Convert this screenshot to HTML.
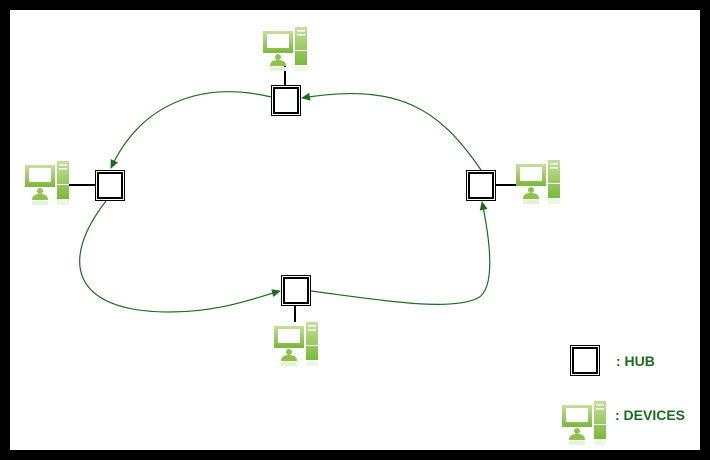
<!DOCTYPE html>
<html><head><style>
html,body{margin:0;padding:0;background:#fff;}
.f{position:absolute;left:0;top:0;width:710px;height:460px;box-sizing:border-box;border:10px solid #000;background:#fff;}
svg{position:absolute;left:0;top:0;}
</style></head><body>
<div class="f"></div>
<svg width="710" height="460" viewBox="0 0 710 460">
<defs>
<linearGradient id="g" x1="0" y1="0" x2="0" y2="1"><stop offset="0" stop-color="#c6e09a"/><stop offset="1" stop-color="#7ab83a"/></linearGradient>
<marker id="a" markerWidth="10" markerHeight="10" refX="8" refY="5" orient="auto" markerUnits="userSpaceOnUse"><path d="M0,1 L9,5 L0,9 Z" fill="#1a6e1a"/></marker>
<g id="d">
<rect x="0" y="4" width="30" height="22" fill="url(#g)"/>
<rect x="4" y="7" width="22" height="14" fill="#fff"/>
<rect x="32" y="0" width="12" height="38" fill="url(#g)"/>
<rect x="34" y="3" width="8" height="1.5" fill="#fff"/><rect x="34" y="7" width="8" height="1.5" fill="#fff"/>
<rect x="32" y="23" width="12" height="1" fill="#fff"/>
<circle cx="15" cy="30" r="3" fill="#8cc34a"/>
<path d="M7,39 Q7,33 15,33 Q23,33 23,39 Z" fill="#8cc34a"/>
<rect x="7" y="40" width="16" height="4" fill="#e6f2d6"/>
<rect x="32" y="39" width="12" height="5" fill="#eef6e4"/>
</g>
<g id="h"><rect x="0.5" y="0.5" width="29" height="30" fill="#fff" stroke="#000" stroke-width="1"/><rect x="3" y="3" width="24" height="25" fill="none" stroke="#000" stroke-width="2"/></g>
</defs>
<g stroke="#1a6e1a" stroke-width="1.2" fill="none">
<path d="M271,97 C200,80 140,105 111,168" marker-end="url(#a)"/>
<path d="M106,201 C60,260 70,312 170,312 C220,312 255,298 280,291" marker-end="url(#a)"/>
<path d="M311,291 C380,300 450,312 478,298 C496,288 490,240 482,202" marker-end="url(#a)"/>
<path d="M481,170 C440,110 400,82 302,98" marker-end="url(#a)"/>
</g>
<g stroke="#000" stroke-width="2">
<line x1="285" y1="66" x2="285" y2="85"/>
<line x1="69" y1="185" x2="95" y2="185"/>
<line x1="496" y1="185" x2="516" y2="185"/>
<line x1="295" y1="306" x2="295" y2="322"/>
</g>
<use href="#d" x="263" y="27"/>
<use href="#d" x="25" y="161"/>
<use href="#d" x="516" y="160"/>
<use href="#d" x="274" y="322"/>
<use href="#d" x="562" y="401"/>
<use href="#h" x="271" y="85"/>
<use href="#h" x="95" y="170"/>
<use href="#h" x="466" y="170"/>
<use href="#h" x="281" y="275"/>
<use href="#h" x="570" y="345"/>
<text x="616" y="366" font-family="Liberation Sans, sans-serif" font-weight="bold" font-size="14" fill="#1a6e1a">: HUB</text>
<text x="615" y="420" font-family="Liberation Sans, sans-serif" font-weight="bold" font-size="14" fill="#1a6e1a">: DEVICES</text>
</svg>
</body></html>
